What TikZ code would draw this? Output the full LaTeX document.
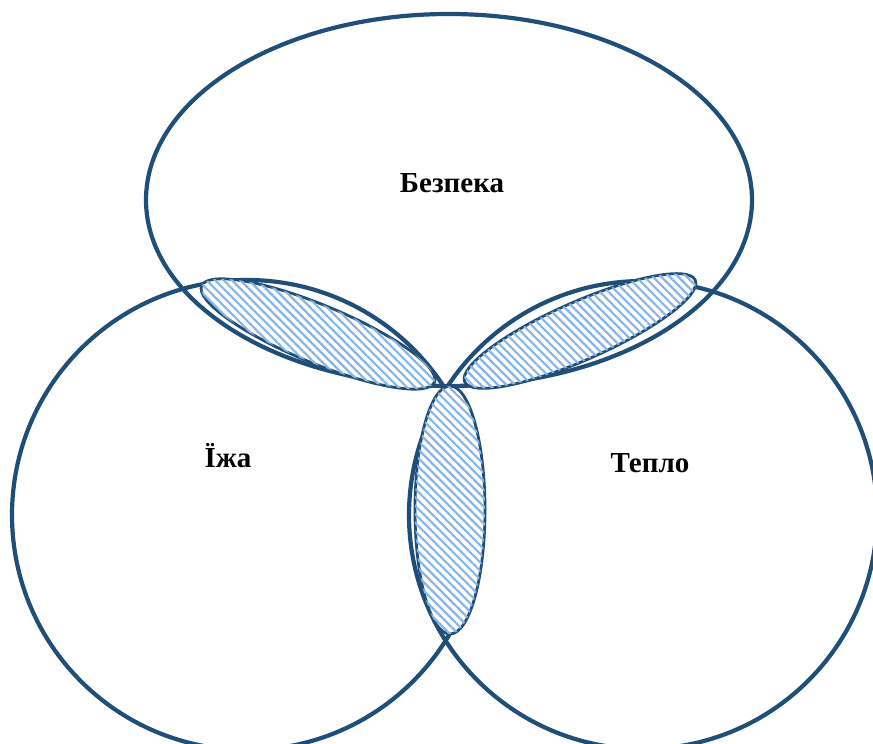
\documentclass[tikz,border=0pt]{standalone}
\usepackage{fontspec}
\setmainfont{Liberation Serif}
\usepackage{tikz}
\usetikzlibrary{positioning,patterns.meta}
\definecolor{VennBlue}{RGB}{31,78,121}
\definecolor{HatchBlue}{RGB}{135,182,230}
\tikzset{
	need/.style={draw=VennBlue,line width=4.2pt},
	overlap/.style={draw=VennBlue,line width=2.8pt,fill=white,
		postaction={pattern={Lines[angle=-45,distance=6pt,line width=2.2pt]},pattern color=HatchBlue}},
	tag/.style={font=\fontsize{29}{34}\selectfont\bfseries,inner sep=0pt},
}
\begin{document}
\begin{tikzpicture}[x=1pt,y=1pt]
	\useasboundingbox (0,0) rectangle (873,744);
	\draw[need] (449,544) ellipse (303 and 186);
	\draw[need] (247,229) circle (235);
	\draw[need] (643,229) circle (234);
	\draw[overlap,rotate around={-22.5:(318,410)}] (318,410) ellipse (126 and 29);
	\draw[overlap,rotate around={23.8:(580,413)}] (580,413) ellipse (126 and 29);
	\draw[overlap] (450,234) ellipse (35 and 124);
	\node[tag] (safety) at (452,561) {Безпека};
	\node[tag] (food) at (228,288) {Їжа};
	\node[tag] (warmth) at (650,281) {Тепло};
\end{tikzpicture}
\end{document}
